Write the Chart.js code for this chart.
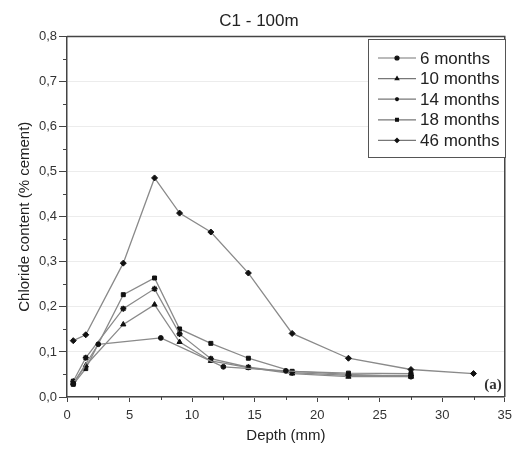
<!DOCTYPE html>
<html lang="en">
<head>
  <meta charset="UTF-8" />
  <title>C1 - 100m</title>
  <script src="https://cdn.jsdelivr.net/npm/chart.js"></script>
  <style>
    html, body { margin: 0; padding: 0; background: #fff; }
    .chart-container { width: 518px; height: 454px; }
  </style>
</head>
<body>
  <div class="chart-container">
    <canvas id="lineChart" width="518" height="454"></canvas>
  </div>

  <script>
    // values (depth in mm, chloride in % cement)
    const seriesNames = ['6 months', '10 months', '14 months', '18 months', '46 months'];
    const depth6 = [0.5, 2.5, 7.5, 12.5, 17.5, 22.5, 27.5];
    const chloride6 = [0.030, 0.117, 0.131, 0.067, 0.058, 0.050, 0.045];
    const depthMid = [0.5, 1.5, 4.5, 7, 9, 11.5, 14.5, 18, 22.5, 27.5];
    const chloride10 = [0.030, 0.070, 0.161, 0.205, 0.122, 0.080, 0.065, 0.052, 0.045, 0.045];
    const chloride14 = [0.035, 0.087, 0.196, 0.240, 0.140, 0.085, 0.066, 0.054, 0.048, 0.048];
    const chloride18 = [0.028, 0.063, 0.227, 0.264, 0.151, 0.119, 0.086, 0.057, 0.053, 0.052];
    const depth46 = [0.5, 1.5, 4.5, 7, 9, 11.5, 14.5, 18, 22.5, 27.5, 32.5];
    const chloride46 = [0.125, 0.138, 0.297, 0.486, 0.408, 0.366, 0.275, 0.141, 0.086, 0.061, 0.052];

    const xTicks = [0, 5, 10, 15, 20, 25, 30, 35];
    const yTicks = [0, 0.1, 0.2, 0.3, 0.4, 0.5, 0.6, 0.7, 0.8];

    const pts = (xs, ys) => xs.map((x, i) => ({ x: x, y: ys[i] }));
    const styles = ['circle', 'triangle', 'star', 'rect', 'rectRot'];
    const radii = [2.4, 3, 3, 2.8, 3];
    const allData = [
      pts(depth6, chloride6),
      pts(depthMid, chloride10),
      pts(depthMid, chloride14),
      pts(depthMid, chloride18),
      pts(depth46, chloride46)
    ];

    const datasets = allData.map((d, i) => ({
      label: seriesNames[i],
      data: d,
      showLine: true,
      borderColor: '#8a8a8a',
      borderWidth: 1.3,
      pointStyle: styles[i],
      pointRadius: radii[i],
      pointBackgroundColor: '#111',
      pointBorderColor: '#111',
      pointBorderWidth: styles[i] === 'star' ? 1.6 : 1
    }));

    const font = "'Liberation Sans', Arial, sans-serif";

    // frame, minor ticks, legend box and panel tag
    const decorations = {
      id: 'decorations',
      afterDraw(chart) {
        const { ctx, chartArea: a, scales: { x, y } } = chart;
        ctx.save();
        ctx.strokeStyle = '#444';
        ctx.lineWidth = 1.5;
        ctx.beginPath();
        ctx.moveTo(a.left, a.top);
        ctx.lineTo(a.right, a.top);
        ctx.lineTo(a.right, a.bottom);
        ctx.stroke();

        ctx.lineWidth = 1;
        ctx.beginPath();
        for (let v = 2.5; v < 35; v += 5) {
          const px = Math.round(x.getPixelForValue(v)) + 0.5;
          ctx.moveTo(px, a.bottom);
          ctx.lineTo(px, a.bottom + 3);
        }
        for (let v = 0.05; v < 0.8; v += 0.1) {
          const py = Math.round(y.getPixelForValue(v)) + 0.5;
          ctx.moveTo(a.left, py);
          ctx.lineTo(a.left - 4, py);
        }
        ctx.stroke();

        // legend
        const bx = 368, by = 39, bw = 137, bh = 118;
        ctx.fillStyle = '#fff';
        ctx.fillRect(bx, by, bw, bh);
        ctx.strokeStyle = '#555';
        ctx.lineWidth = 1;
        ctx.strokeRect(bx + 0.5, by + 0.5, bw, bh);
        ctx.font = '17px ' + font;
        ctx.textBaseline = 'middle';
        chart.data.datasets.forEach((ds, i) => {
          const ly = by + 19 + i * 20.6;
          ctx.strokeStyle = '#777';
          ctx.lineWidth = 1.2;
          ctx.beginPath();
          ctx.moveTo(bx + 10, ly);
          ctx.lineTo(bx + 48, ly);
          ctx.stroke();
          ctx.fillStyle = '#111';
          ctx.strokeStyle = '#111';
          Chart.helpers.drawPoint(ctx, { pointStyle: ds.pointStyle, radius: 2, rotation: 0, borderWidth: 1 }, bx + 29, ly);
          ctx.fillStyle = '#222';
          ctx.fillText(ds.label, bx + 52, ly + 1);
        });

        ctx.font = 'bold 15px "Liberation Serif", serif';
        ctx.fillStyle = '#333';
        ctx.textAlign = 'right';
        ctx.fillText('(a)', a.right - 3, a.bottom - 12);
        ctx.restore();
      }
    };

    const ctx = document.getElementById('lineChart').getContext('2d');

    const lineChart = new Chart(ctx, {
      type: 'scatter',
      data: { datasets: datasets },
      plugins: [decorations],
      options: {
        responsive: false,
        animation: false,
        layout: { padding: { left: 0, right: 0, top: 0, bottom: 0 } },
        plugins: {
          legend: { display: false },
          tooltip: { enabled: false },
          title: {
            display: true,
            text: 'C1 - 100m',
            color: '#222',
            font: { family: font, size: 17, weight: 'normal' },
            padding: { top: 11, bottom: 5 }
          }
        },
        scales: {
          x: {
            type: 'linear',
            min: 0,
            max: 35,
            afterBuildTicks: s => { s.ticks = xTicks.map(v => ({ value: v })); },
            afterFit: s => { s.height = 57; },
            ticks: {
              color: '#333',
              font: { family: font, size: 13 },
              padding: 6,
              maxRotation: 0,
              callback: v => String(v)
            },
            grid: { drawOnChartArea: false, tickLength: 5, tickColor: '#444' },
            border: { color: '#444', width: 1.5 },
            title: {
              display: true,
              text: 'Depth (mm)',
              color: '#222',
              font: { family: font, size: 15 },
              padding: { top: 4, bottom: 9 }
            }
          },
          y: {
            type: 'linear',
            min: 0,
            max: 0.8,
            afterBuildTicks: s => { s.ticks = yTicks.map(v => ({ value: v })); },
            afterFit: s => { s.width = 67; },
            ticks: {
              color: '#333',
              font: { family: font, size: 13 },
              padding: 2,
              callback: v => v.toFixed(1).replace('.', ',')
            },
            grid: { color: '#ececec', lineWidth: 1, tickLength: 8, tickColor: '#444' },
            border: { color: '#444', width: 1.5 },
            title: {
              display: true,
              text: 'Chloride content (% cement)',
              color: '#222',
              font: { family: font, size: 15 },
              padding: { top: 16, bottom: 4 }
            }
          }
        }
      }
    });
  </script>
</body>
</html>
